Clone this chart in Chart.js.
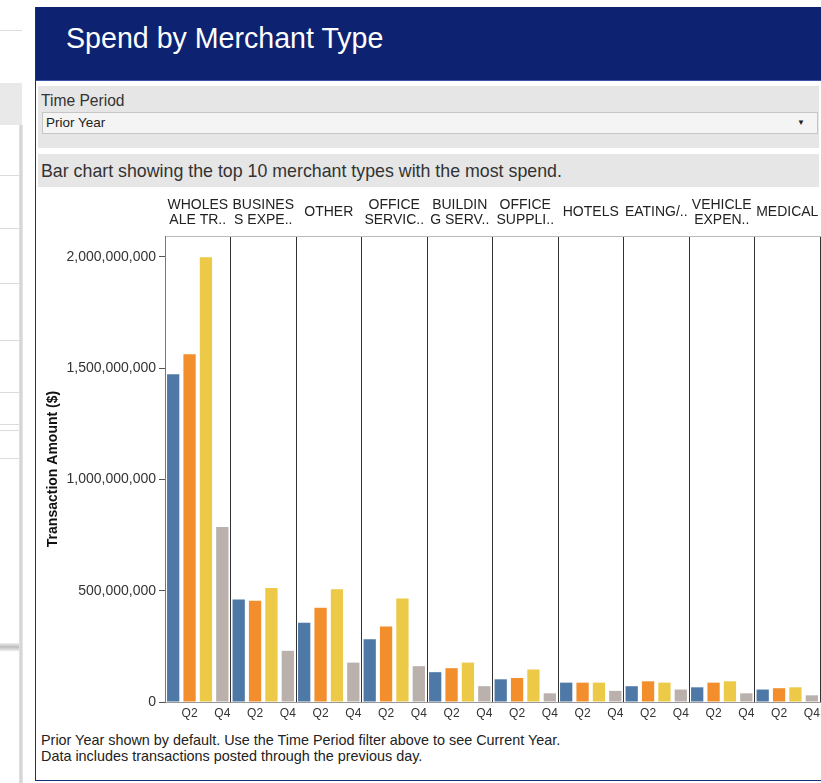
<!DOCTYPE html>
<html>
<head>
<meta charset="utf-8">
<title>Spend by Merchant Type</title>
<script src="https://cdn.jsdelivr.net/npm/chart.js@4.4.1/dist/chart.umd.min.js"></script>
<style>
    body { margin: 0; width: 821px; height: 783px; overflow: hidden; background: #fff;
           font-family: "Liberation Sans", Arial, sans-serif; color: #333; position: relative; }
    .abs { position: absolute; }
    #side { left: 0; top: 0; width: 35px; height: 783px; background: #fff; }
    #side .band { position: absolute; left: 0; width: 22px; top: 83px; height: 42px; background: #e9e9e9; }
    #side .hl { position: absolute; left: 0; width: 22px; height: 1px; background: #dcdcdc; }
    #side .vl { position: absolute; left: 19px; top: 125px; width: 4px; height: 658px;
                background: linear-gradient(to right, #e6e6e6, #cfcfcf, #ececec); }
    #side .shadow { position: absolute; left: 0; top: 643px; width: 22px; height: 8px;
                    background: linear-gradient(#eee, #bdbdbd, #eee); }
    #panel { left: 35px; top: 7px; width: 786px; height: 773px; border-left: 1px solid #1b2f7c;
             border-bottom: 1px solid #1b2f7c; background: #fff; }
    #header { left: 36px; top: 7px; width: 785px; height: 73px; background: #0d2371;
              border-bottom: 1px solid #3a54a8; }
    #header span { position: absolute; left: 30px; top: 15px; font-size: 28.6px; color: #fff; }
    #filter { left: 38px; top: 86px; width: 781px; height: 62px; background: #e6e6e6; }
    #filter .lbl { position: absolute; left: 3px; top: 6px; font-size: 15.6px; color: #333; }
    #filter .dd { position: absolute; left: 4px; top: 26px; width: 774px; height: 20px;
                  background: #f4f4f4; border: 1px solid #c6c6c6; }
    #filter .dd span { position: absolute; left: 3px; top: 2px; font-size: 13.5px; color: #222; }
    #filter .dd b { position: absolute; right: 12px; top: 5px; font-size: 8px; color: #222; font-weight: normal; }
    #desc { left: 38px; top: 154px; width: 781px; height: 33px; background: #e6e6e6; }
    #desc span { position: absolute; left: 3px; top: 7px; font-size: 17.8px; color: #333; }
    #chart-wrap { left: 36px; top: 190px; width: 785px; height: 538px; }
    #footer { left: 41px; top: 732px; font-size: 14.4px; line-height: 16px; color: #222; }
</style>
</head>
<body>
<div id="side" class="abs">
    <div class="hl" style="top:30px"></div>
    <div class="band"></div>
    <div class="hl" style="top:175px"></div>
    <div class="hl" style="top:228px"></div>
    <div class="hl" style="top:283px"></div>
    <div class="hl" style="top:340px"></div>
    <div class="hl" style="top:392px"></div>
    <div class="hl" style="top:424px"></div>
    <div class="hl" style="top:430px"></div>
    <div class="hl" style="top:458px"></div>
    <div class="shadow"></div>
    <div class="vl"></div>
</div>
<div id="panel" class="abs"></div>
<div id="header" class="abs"><span>Spend by Merchant Type</span></div>
<div id="filter" class="abs">
    <div class="lbl">Time Period</div>
    <div class="dd"><span>Prior Year</span><b>&#9660;</b></div>
</div>
<div id="desc" class="abs"><span>Bar chart showing the top 10 merchant types with the most spend.</span></div>
<div id="chart-wrap" class="abs"><canvas id="spend-chart" width="785" height="538"></canvas></div>
<div id="footer" class="abs">
    Prior Year shown by default. Use the Time Period filter above to see Current Year.<br>
    Data includes transactions posted through the previous day.
</div>

<script>
// Merchant types as shown in the panel headers (truncated like the original)
const merchantTypes = [
    ['WHOLES', 'ALE TR..'],
    ['BUSINES', 'S EXPE..'],
    'OTHER',
    ['OFFICE', 'SERVIC..'],
    ['BUILDIN', 'G SERV..'],
    ['OFFICE', 'SUPPLI..'],
    'HOTELS',
    'EATING/..',
    ['VEHICLE', 'EXPEN..'],
    'MEDICAL'
];
const quarters = ['Q1', 'Q2', 'Q3', 'Q4'];

// Transaction amount ($) per quarter, one value per merchant type
const q1Spend = [1473e6, 461e6, 356e6, 282e6, 134e6, 102e6, 87e6, 71e6, 66e6, 56e6];
const q2Spend = [1563e6, 455e6, 423e6, 339e6, 152e6, 108e6, 87e6, 93e6, 87e6, 62e6];
const q3Spend = [1998e6, 512e6, 507e6, 465e6, 177e6, 146e6, 87e6, 87e6, 93e6, 66e6];
const q4Spend = [786e6, 230e6, 177e6, 161e6, 71e6, 39e6, 50e6, 56e6, 39e6, 30e6];

const yTickValues = [0, 500e6, 1000e6, 1500e6, 2000e6];
const quarterColors = ['#4e79a7', '#f28e2b', '#edc948', '#bab0ac'];

// Flatten into one bar per merchant type / quarter
const quarterSeries = [q1Spend, q2Spend, q3Spend, q4Spend];
const barLabels = [];
const barValues = [];
const barColors = [];
merchantTypes.forEach(function(m, i) {
    quarters.forEach(function(q, j) {
        barLabels.push(q);
        barValues.push(quarterSeries[j][i]);
        barColors.push(quarterColors[j]);
    });
});

// horizontal axes: keep the plot flush with the canvas edges
function noSidePadding(scale) {
    scale.paddingLeft = 0;
    scale.paddingRight = 0;
}

const ctx = document.getElementById('spend-chart').getContext('2d');
const spendChart = new Chart(ctx, {
    type: 'bar',
    data: {
        labels: barLabels,
        datasets: [{
            label: 'Transaction Amount ($)',
            data: barValues,
            backgroundColor: barColors,
            borderWidth: 0,
            barPercentage: 0.75,
            categoryPercentage: 1
        }]
    },
    options: {
        responsive: false,
        animation: false,
        layout: { padding: { left: 0, right: 1, top: 0, bottom: 0 } },
        plugins: { legend: { display: false }, tooltip: { enabled: false } },
        scales: {
            x: {
                type: 'category',
                position: 'bottom',
                offset: true,
                grid: {
                    offset: true,
                    drawTicks: false,
                    lineWidth: 1,
                    // only draw the panel dividers (every 4th boundary + right edge)
                    color: function(c) {
                        if (c.index === undefined) return '#333';
                        return (c.index > 0 && c.index % 4 === 0) ? '#333' : 'rgba(0,0,0,0)';
                    }
                },
                border: { display: true, color: '#999' },
                ticks: {
                    autoSkip: false,
                    maxRotation: 0,
                    padding: 4,
                    color: '#333',
                    font: { family: '"Liberation Sans", Arial', size: 12 },
                    callback: function(value) {
                        const l = this.getLabelForValue(value);
                        return (l === 'Q2' || l === 'Q4') ? l : '';
                    }
                },
                afterFit: function(scale) { scale.height = 26; noSidePadding(scale); }
            },
            x2: {
                type: 'category',
                position: 'top',
                labels: merchantTypes,
                offset: true,
                grid: { display: false },
                border: { display: true, color: '#bbb' },
                ticks: {
                    autoSkip: false,
                    maxRotation: 0,
                    padding: 8,
                    crossAlign: 'center',
                    color: '#222',
                    font: { family: '"Liberation Sans", Arial', size: 14, lineHeight: 1.07 }
                },
                afterFit: function(scale) { scale.height = 46; noSidePadding(scale); }
            },
            y: {
                min: 0,
                max: 2.094e9,
                grid: { drawOnChartArea: false, drawTicks: true, tickLength: 6, color: '#555' },
                border: { display: true, color: '#777' },
                ticks: {
                    padding: 3,
                    color: '#333',
                    font: { family: '"Liberation Sans", Arial', size: 14 },
                    callback: function(value) { return value.toLocaleString('en-US'); }
                },
                afterBuildTicks: function(scale) {
                    scale.ticks = yTickValues.map(function(v) { return { value: v }; });
                },
                title: {
                    display: true,
                    text: 'Transaction Amount ($)',
                    color: '#111',
                    padding: { top: 9, bottom: 4 },
                    font: { family: '"Liberation Sans", Arial', size: 14, weight: 'bold' }
                },
                afterFit: function(scale) { scale.width = 129; }
            }
        }
    }
});
</script>
</body>
</html>
